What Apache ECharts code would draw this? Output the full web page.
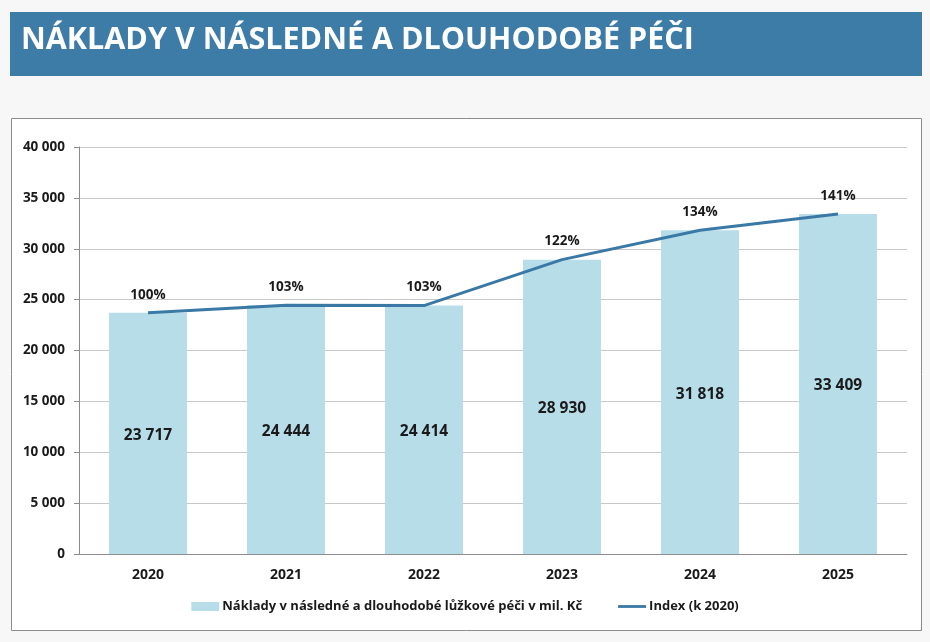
<!DOCTYPE html>
<html>
<head>
<meta charset="utf-8">
<script src="https://cdn.jsdelivr.net/npm/echarts@6/dist/echarts.min.js"></script>
<style>
html,body{margin:0;padding:0;background:#f7f7f7;}
#c{width:930px;height:642px;}
</style>
</head>
<body>
<div id="c"></div>
<script>
const categories = ['2020','2021','2022','2023','2024','2025'];
const costs = [23717, 24444, 24414, 28930, 31818, 33409];
const indexPct = [100, 103, 103, 122, 134, 141];
const yTicks = [0, 5000, 10000, 15000, 20000, 25000, 30000, 35000, 40000];
const titleText = 'NÁKLADY V NÁSLEDNÉ A DLOUHODOBÉ PÉČI';
const barName = 'Náklady v následné a dlouhodobé lůžkové péči v mil. Kč';
const lineName = 'Index (k 2020)';

const FONT = '"Open Sans", sans-serif';
const fmt = v => String(v).replace(/\B(?=(\d{3})+(?!\d))/g, ' ');

const chart = echarts.init(document.getElementById('c'));
chart.setOption({
  backgroundColor: '#f7f7f7',
  textStyle: { fontFamily: FONT },
  graphic: [
    { type: 'rect', shape: { x: 10, y: 12, width: 912, height: 64 }, style: { fill: '#3d7ca7' }, z: 0 },
    { type: 'rect', shape: { x: 11.5, y: 118.5, width: 910, height: 512 }, style: { fill: '#ffffff', stroke: '#8c8c8c', lineWidth: 1 }, z: 0 },
    { type: 'text', left: 21, top: 25, style: { text: titleText, fill: '#ffffff', font: 'bold 30.5px ' + FONT }, z: 10 }
  ],
  legend: {
    bottom: 24,
    left: 'center',
    itemGap: 36,
    itemWidth: 28,
    itemHeight: 9,
    textStyle: { fontFamily: FONT, fontWeight: 'bold', fontSize: 13, color: '#1a1a1a', padding: [0,0,0,-2] },
    data: [
      { name: barName, icon: 'rect' },
      { name: lineName, icon: 'path://M0,0 L30,0 L30,3 L0,3 Z' }
    ]
  },
  grid: { left: 79, right: 23, top: 147, bottom: 88, show: true, borderColor: '#bfbfbf', borderWidth: 1, backgroundColor: 'transparent' },
  xAxis: {
    type: 'category',
    data: categories,
    axisLine: { lineStyle: { color: '#8c8c8c' } },
    axisTick: { show: false },
    axisLabel: { fontFamily: FONT, fontWeight: 'bold', fontSize: 14, color: '#1a1a1a', margin: 14 }
  },
  yAxis: {
    type: 'value',
    min: 0, max: 40000, interval: 5000,
    axisLine: { show: true, lineStyle: { color: '#8c8c8c' } },
    axisTick: { show: true, length: 5, lineStyle: { color: '#8c8c8c' } },
    splitLine: { lineStyle: { color: '#c8c8c8' } },
    axisLabel: { fontFamily: FONT, fontWeight: 'bold', fontSize: 13.5, color: '#1a1a1a', margin: 14,
      formatter: v => yTicks.includes(v) ? fmt(v) : '' }
  },
  series: [
    {
      name: barName,
      type: 'bar',
      data: costs,
      barWidth: '56.5%',
      itemStyle: { color: '#b7dde8' },
      label: { show: true, position: 'inside', offset: [0, 2], formatter: p => fmt(p.value),
        fontFamily: FONT, fontWeight: 'bold', fontSize: 15.5, color: '#1a1a1a' },
      z: 2
    },
    {
      name: lineName,
      type: 'line',
      data: costs,
      symbol: 'circle',
      symbolSize: 0,
      showSymbol: true,
      lineStyle: { color: '#3a79a6', width: 3 },
      itemStyle: { color: '#3a79a6' },
      label: { show: true, position: 'top', distance: 11, formatter: p => indexPct[p.dataIndex] + '%',
        fontFamily: FONT, fontWeight: 'bold', fontSize: 13.5, color: '#1a1a1a' },
      z: 3
    }
  ]
});
</script>
</body>
</html>
